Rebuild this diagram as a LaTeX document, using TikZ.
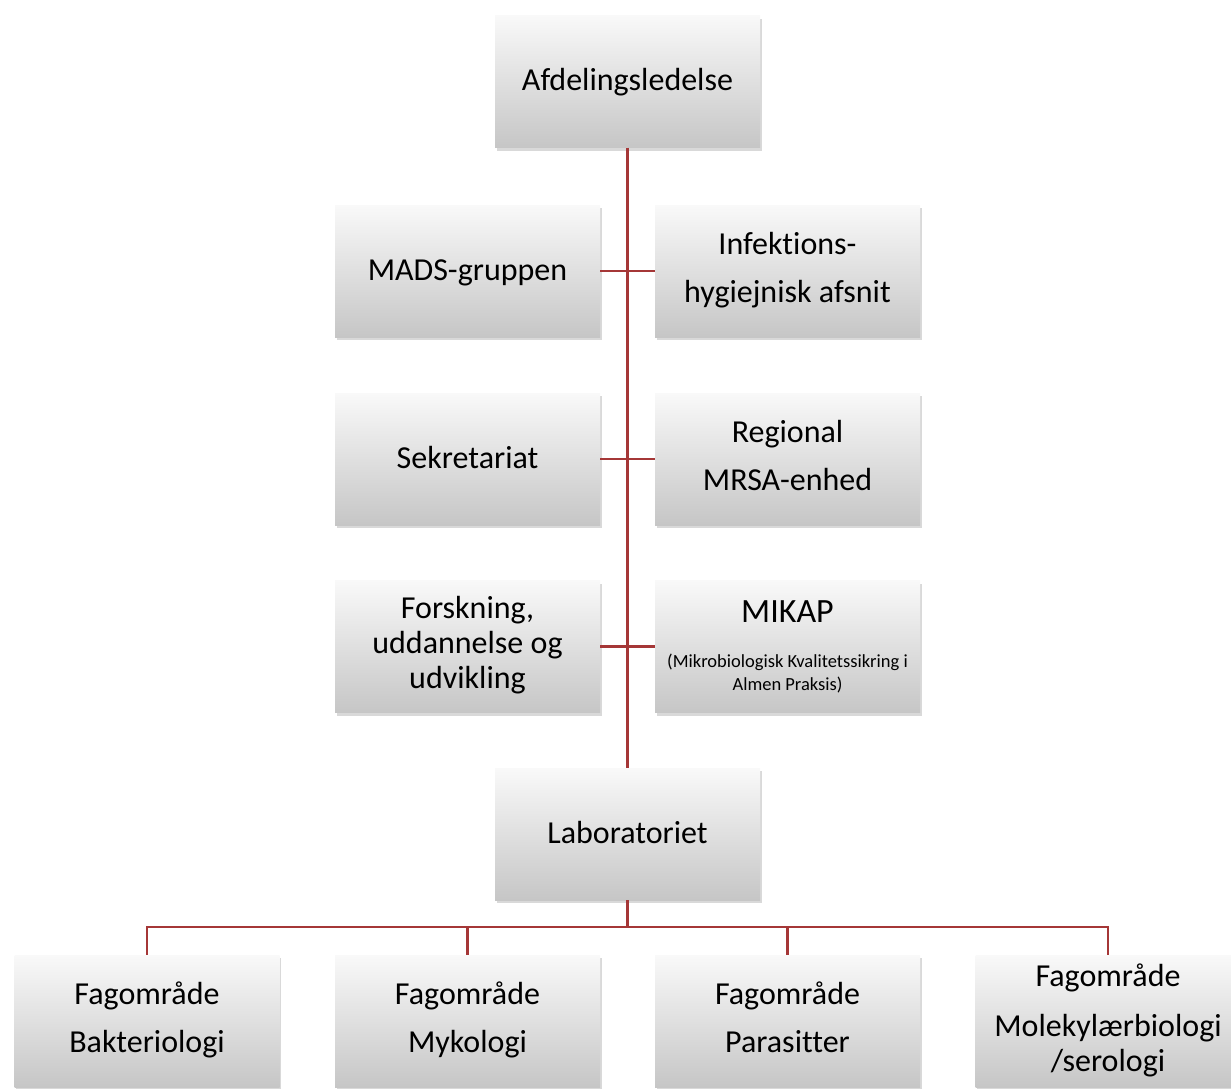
\documentclass[tikz,border=0pt]{standalone}
\usepackage{fontspec}
\setmainfont{Carlito}[Ligatures={NoCommon,NoContextual}]
\usetikzlibrary{shadows}
\definecolor{linkred}{RGB}{165,55,55}
\definecolor{boxtop}{RGB}{249,249,249}
\definecolor{boxbot}{RGB}{198,198,198}
\newcommand\boxstrut{\rule[-7.5pt]{0pt}{33.5pt}}
\begin{document}
\begin{tikzpicture}[x=1pt,y=-1pt,
  box/.style={rectangle, minimum width=265pt, minimum height=132pt, inner sep=0pt,
    top color=boxtop, bottom color=boxbot,
    drop shadow={shadow xshift=1.5pt, shadow yshift=-3pt, opacity=0.3},
    align=center, execute at begin node=\boxstrut, execute at end node=\boxstrut,
    font=\fontsize{32}{48}\selectfont},
  link/.style={draw=linkred, line width=2.5pt},
  lbl/.style={inner sep=0pt, anchor=base}]
\useasboundingbox (0,0) rectangle (1231,1088);
% boxes
\node[box] (top) at (627.5,81.5) {Afdelingsledelse};
\node[box] (mads) at (467.5,271) {MADS-gruppen};
\node[box] (infek) at (787.5,271) {Infektions-\\hygiejnisk afsnit};
\node[box] (sekr) at (467.5,459) {Sekretariat};
\node[box] (mrsa) at (787.5,459) {Regional\\MRSA-enhed};
\node[box, font=\fontsize{32}{35}\selectfont] (forsk) at (467.5,646.5) {Forskning,\\uddannelse og\\udvikling};
\node[box] (mikap) at (787.5,646.5) {};
\node[lbl, font=\fontsize{34}{34}\selectfont] (mikapt) at (787.5,622) {MIKAP};
\node[lbl, font=\fontsize{18.5}{18.5}\selectfont] (mikaps1) at (787.5,667) {(Mikrobiologisk Kvalitetssikring i};
\node[lbl, font=\fontsize{18.5}{18.5}\selectfont] (mikaps2) at (787.5,690) {Almen Praksis)};
\node[box] (lab) at (627.5,834) {Laboratoriet};
\node[box] (bakt) at (147,1021) {Fagområde\\Bakteriologi};
\node[box] (myko) at (467.5,1021) {Fagområde\\Mykologi};
\node[box] (para) at (787.5,1021) {Fagområde\\Parasitter};
\node[box, font=\fontsize{32}{35}\selectfont] (molek) at (1108,1021) {Fagområde\\[15pt]Molekylærbiologi\\/serologi};
% connectors
\draw[link] (top.south) -- (lab.north);
\draw[link] (mads.east) -- (infek.west);
\draw[link] (sekr.east) -- (mrsa.west);
\draw[link] (forsk.east) -- (mikap.west);
\draw[link] (lab.south) -- ++(0,27) coordinate (bus);
\draw[link] (bus) -| (bakt.north);
\draw[link] (bus) -| (myko.north);
\draw[link] (bus) -| (para.north);
\draw[link] (bus) -| (molek.north);
\end{tikzpicture}
\end{document}
